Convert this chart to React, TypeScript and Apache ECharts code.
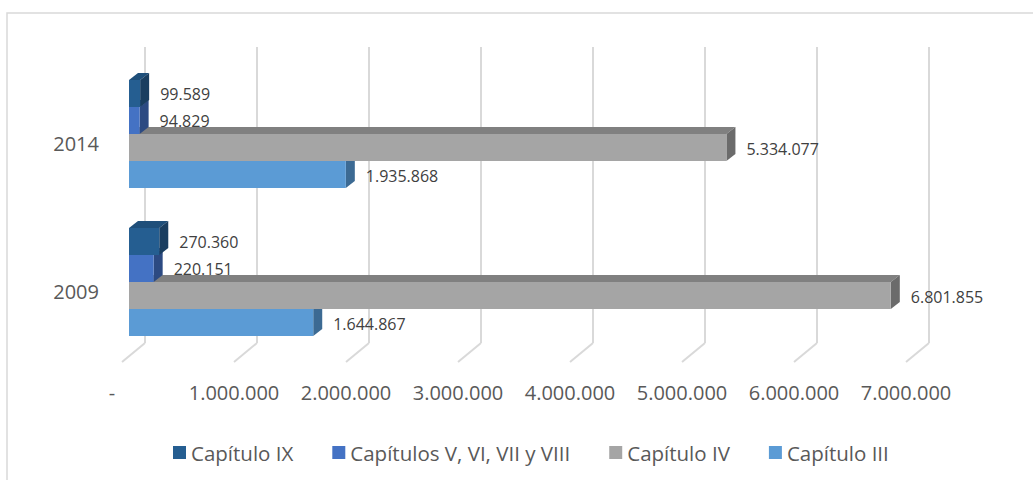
import React, { useEffect, useRef } from "react";
import * as echarts from "echarts";

const categories = ["2009", "2014"];
const seriesNames = ["Capítulo III", "Capítulo IV", "Capítulos V, VI, VII y VIII", "Capítulo IX"];
const capIII = [1644867, 1935868];
const capIV = [6801855, 5334077];
const capVVIII = [220151, 94829];
const capIX = [270360, 99589];
const tickValues = [0, 1000000, 2000000, 3000000, 4000000, 5000000, 6000000, 7000000];
const legendOrder = ["Capítulo IX", "Capítulos V, VI, VII y VIII", "Capítulo IV", "Capítulo III"];

const seriesValues = [capIII, capIV, capVVIII, capIX];
const faceColors = [
  { front: "#5b9bd5", top: "#4a80b0", side: "#3c6a93" },
  { front: "#a5a5a5", top: "#808080", side: "#6b6b6b" },
  { front: "#4472c4", top: "#36599a", side: "#2c4a82" },
  { front: "#255e91", top: "#1f4f7a", side: "#1a3e60" },
];

const fmt = (v: number) => String(Math.round(v)).replace(/\B(?=(\d{3})+(?!\d))/g, ".");

const DX = 9;
const DY = -7;
const GROUP_FRACTION = 0.73;
const N = 4;

export default function App() {
  const ref = useRef<HTMLDivElement>(null);
  useEffect(() => {
    if (!ref.current) return;
    const chart = echarts.init(ref.current, null, { renderer: "svg" });

    const barSeries = seriesValues.map((vals, si) => ({
      type: "custom",
      name: seriesNames[si],
      itemStyle: { color: faceColors[si].front },
      z: 3,
      data: vals.map((v, ci) => [v, ci]),
      encode: { x: 0, y: 1 },
      renderItem: (params: any, api: any) => {
        const v = api.value(0);
        const c = api.value(1);
        const p0 = api.coord([0, c]);
        const p1 = api.coord([v, c]);
        const band = api.size([0, 1])[1];
        const barH = (band * GROUP_FRACTION) / N;
        const bottom = p0[1] + (band * GROUP_FRACTION) / 2 - si * barH;
        const top = bottom - barH;
        const x0 = p0[0];
        const x1 = p1[0];
        const col = faceColors[si];
        return {
          type: "group",
          children: [
            {
              type: "polygon",
              shape: { points: [[x0, top], [x0 + DX, top + DY], [x1 + DX, top + DY], [x1, top]] },
              style: { fill: col.top },
            },
            {
              type: "polygon",
              shape: { points: [[x1, top], [x1 + DX, top + DY], [x1 + DX, bottom + DY], [x1, bottom]] },
              style: { fill: col.side },
            },
            {
              type: "rect",
              shape: { x: x0, y: top, width: x1 - x0, height: bottom - top },
              style: { fill: col.front },
            },
            {
              type: "text",
              z2: 100,
              style: {
                text: fmt(v),
                x: x1 + 20,
                y: (top + bottom) / 2 + 1,
                fill: "#404040",
                font: '16px "Open Sans"',
                verticalAlign: "middle",
                align: "left",
              },
            },
          ],
        };
      },
    }));

    const gridSeries = {
      type: "custom",
      name: "grid3d",
      z: 1,
      silent: true,
      data: tickValues.map((v) => [v, 0]),
      encode: { x: 0, y: 1 },
      renderItem: (params: any, api: any) => {
        const p = api.coord([api.value(0), 0]);
        const cs = params.coordSys;
        const x = p[0];
        const topY = cs.y - 13;
        const botY = cs.y + cs.height - 13;
        const stroke = { stroke: "#d9d9d9", lineWidth: 2 };
        return {
          type: "group",
          children: [
            { type: "line", shape: { x1: x + 16, y1: topY, x2: x + 16, y2: botY }, style: stroke },
            { type: "line", shape: { x1: x + 16, y1: botY, x2: x - 7, y2: botY + 19 }, style: stroke },
          ],
        };
      },
    };

    chart.setOption({
      animation: false,
      backgroundColor: "#ffffff",
      textStyle: { fontFamily: '"Open Sans"' },
      graphic: [
        {
          type: "rect",
          shape: { x: 7, y: 13, width: 1200, height: 600 },
          style: { fill: "none", stroke: "#d9d9d9", lineWidth: 1.5 },
          silent: true,
          z: 0,
        },
      ],
      grid: { left: 129, top: 60, width: 784, height: 296, containLabel: false },
      xAxis: {
        type: "value",
        min: 0,
        max: 7000000,
        interval: 1000000,
        axisLine: { show: false },
        axisTick: { show: false },
        splitLine: { show: false },
        axisLabel: {
          margin: 26,
          color: "#595959",
          fontSize: 20,
          fontFamily: '"Open Sans"',
          padding: [0, 14, 0, 0],
          formatter: (v: number) => (v === 0 ? "{z|-}" : fmt(v)),
          rich: { z: { padding: [0, 20, 0, 0], fontSize: 20, color: "#595959" } },
        },
      },
      yAxis: {
        type: "category",
        data: categories,
        axisLine: { show: false },
        axisTick: { show: false },
        splitLine: { show: false },
        axisLabel: {
          margin: 30,
          formatter: (v: string) => "{y|" + v + "}",
          rich: {
            y: {
              color: "#595959",
              fontSize: 20,
              fontFamily: '"Open Sans"',
              padding: [18, 0, 0, 0],
            },
          },
        },
      },
      legend: {
        data: legendOrder,
        left: 168,
        top: 437,
        icon: "rect",
        itemWidth: 13,
        itemHeight: 13,
        itemGap: 39,
        textStyle: { color: "#595959", fontSize: 20.5, fontFamily: '"Open Sans"' },
      },
      series: [gridSeries, ...barSeries],
    });
    return () => chart.dispose();
  }, []);
  return (
    <div
      ref={ref}
      style={{ position: "fixed", left: 0, top: 0, width: 1033, height: 480, background: "#fff" }}
    />
  );
}
